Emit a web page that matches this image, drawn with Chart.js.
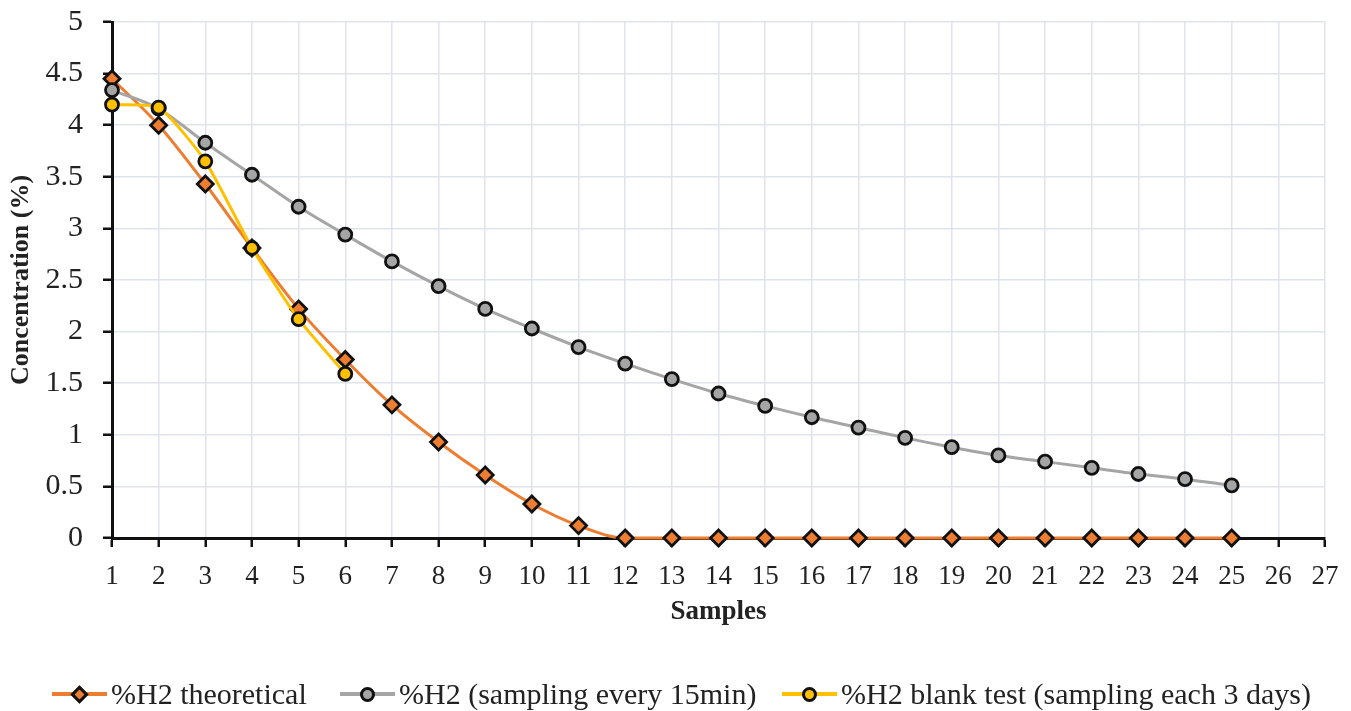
<!DOCTYPE html>
<html>
<head>
<meta charset="utf-8">
<script src="https://cdn.jsdelivr.net/npm/chart.js@4.4.1/dist/chart.umd.min.js"></script>
<style>
  html, body { margin: 0; padding: 0; background: #fff; }
  #wrap { position: relative; width: 1351px; height: 711px; }
  #legend {
    position: absolute; left: 0; top: 676px; width: 1351px; height: 36px;
    font-family: "Liberation Serif", "Times New Roman", serif; font-size: 30px; color: #222;
  }
  .item { position: absolute; top: 0; height: 36px; display: flex; align-items: center; white-space: nowrap; }
  .icon { position: relative; width: 55px; height: 20px; margin-right: 4px; }
  .icon .ln { position: absolute; left: 0; right: 0; top: 8px; height: 4px; }
  .icon .mk { position: absolute; box-sizing: border-box; border: 3px solid #111; }
  .mk.dia { width: 13px; height: 13px; left: 21px; top: 3.5px; transform: rotate(45deg); }
  .mk.cir { width: 15px; height: 15px; left: 20px; top: 2.5px; border-radius: 50%; }
</style>
</head>
<body>
<div id="wrap">
  <canvas id="chart" width="1351" height="711"></canvas>
  <div id="legend"></div>
</div>
<script>
// samples on the x axis
const samples = [1, 2, 3, 4, 5, 6, 7, 8, 9, 10, 11, 12, 13, 14, 15, 16, 17, 18, 19, 20, 21, 22, 23, 24, 25];

// %H2 theoretical
const h2Theoretical = [4.45, 4.00, 3.43, 2.81, 2.22, 1.73, 1.29, 0.93, 0.61, 0.33, 0.12,
  0, 0, 0, 0, 0, 0, 0, 0, 0, 0, 0, 0, 0, 0];

// %H2 (sampling every 15min)
const h2Every15min = [4.34, 4.16, 3.83, 3.52, 3.21, 2.94, 2.68, 2.44, 2.22, 2.03, 1.85,
  1.69, 1.54, 1.40, 1.28, 1.17, 1.07, 0.97, 0.88, 0.80, 0.74, 0.68, 0.62, 0.57, 0.51];

// %H2 blank test (sampling each 3 days), only first 6 samples
const h2Blank = [4.20, 4.17, 3.65, 2.81, 2.12, 1.59];

const seriesNames = [
  "%H2 theoretical",
  "%H2 (sampling every 15min)",
  "%H2 blank test (sampling each 3 days)",
];
const seriesColors = ["#ED7D31", "#A5A5A5", "#FFC000"];
const legendLeft = [52, 340, 782];

const toPoints = (vals) => vals.map((v, i) => ({ x: samples[i], y: v }));

const serif = "'Liberation Serif', 'Times New Roman', serif";

function lineSet(idx, vals, style, order) {
  return {
    label: seriesNames[idx],
    data: toPoints(vals),
    borderColor: seriesColors[idx],
    backgroundColor: seriesColors[idx],
    borderWidth: 3,
    pointStyle: style,
    pointRadius: style === "rectRot" ? 8 : 6.5,
    pointBorderWidth: 2.8,
    pointBorderColor: "#111",
    pointBackgroundColor: seriesColors[idx],
    cubicInterpolationMode: "monotone",
    clip: false,
    order: order,
  };
}

// blank test line is only lightly smoothed
const blankSet = lineSet(2, h2Blank, "circle", 0);
blankSet.cubicInterpolationMode = "default";
blankSet.tension = 0.2;

const ctx = document.getElementById("chart").getContext("2d");
new Chart(ctx, {
  type: "line",
  data: {
    datasets: [
      lineSet(0, h2Theoretical, "rectRot", 2),
      lineSet(1, h2Every15min, "circle", 1),
      blankSet,
    ],
  },
  options: {
    responsive: false,
    animation: false,
    events: [],
    layout: { padding: { left: 0, top: 22, right: 26, bottom: 70 } },
    plugins: { legend: { display: false }, tooltip: { enabled: false } },
    scales: {
      x: {
        type: "linear",
        min: 1,
        max: 27,
        afterFit: (s) => {
          s.height = 103;
          s.paddingLeft = 0;
          s.paddingRight = 0;
        },
        ticks: {
          stepSize: 1,
          color: "#222",
          padding: 14,
          maxRotation: 0,
          autoSkip: false,
          font: { family: serif, size: 27 },
        },
        grid: { color: "#dfe3eb", lineWidth: 1.5, tickColor: "#111", tickLength: 9, tickWidth: 2.5 },
        border: { color: "#111", width: 3 },
        title: {
          display: true,
          text: "Samples",
          color: "#222",
          padding: { top: 0, bottom: 13 },
          font: { family: serif, size: 27, weight: "bold" },
        },
      },
      y: {
        min: 0,
        max: 5,
        afterFit: (s) => {
          s.width = 112;
          s.paddingTop = 0;
          s.paddingBottom = 0;
        },
        ticks: {
          stepSize: 0.5,
          color: "#222",
          padding: 20,
          callback: (v) => String(v),
          font: { family: serif, size: 30 },
        },
        grid: { color: "#dfe3eb", lineWidth: 1.5, tickColor: "#111", tickLength: 9, tickWidth: 2.5 },
        border: { color: "#111", width: 3 },
        title: {
          display: true,
          text: "Concentration (%)",
          color: "#222",
          padding: { top: 6, bottom: 0 },
          font: { family: serif, size: 26, weight: "bold" },
        },
      },
    },
  },
});

// html legend: line with marker, then the series name
const legend = document.getElementById("legend");
seriesNames.forEach((name, i) => {
  const item = document.createElement("div");
  item.className = "item";
  item.style.left = legendLeft[i] + "px";
  const icon = document.createElement("div");
  icon.className = "icon";
  const ln = document.createElement("div");
  ln.className = "ln";
  ln.style.background = seriesColors[i];
  const mk = document.createElement("div");
  mk.className = "mk " + (i === 0 ? "dia" : "cir");
  mk.style.background = seriesColors[i];
  icon.appendChild(ln);
  icon.appendChild(mk);
  const txt = document.createElement("span");
  txt.textContent = name;
  item.appendChild(icon);
  item.appendChild(txt);
  legend.appendChild(item);
});
</script>
</body>
</html>
